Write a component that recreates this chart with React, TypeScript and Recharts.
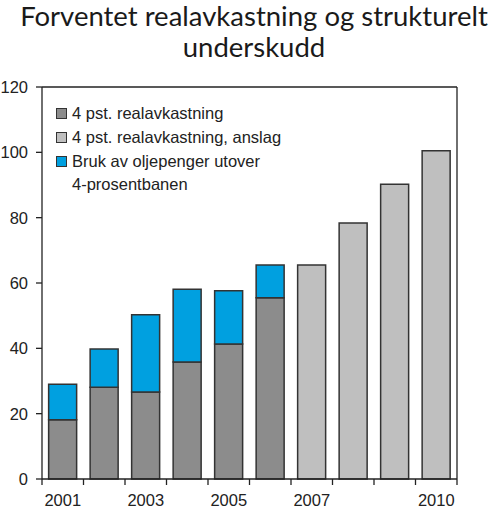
import React from "react";
import {
  BarChart,
  Bar,
  XAxis,
  YAxis,
  ReferenceLine,
  Legend,
} from "recharts";

// ---- data ----
const years = ["2001", "2002", "2003", "2004", "2005", "2006", "2007", "2008", "2009", "2010"];
const realavkastning = [18.1, 28.1, 26.6, 35.8, 41.3, 55.5, null, null, null, null];
const anslag = [null, null, null, null, null, null, 65.5, 78.4, 90.2, 100.5];
const brukUtover = [10.9, 11.7, 23.7, 22.3, 16.3, 10.0, null, null, null, null];
const xTickLabels = ["2001", "2003", "2005", "2007", "2010"];
const yTicks = [0, 20, 40, 60, 80, 100, 120];
const legendItems = [
  { key: "real", label: "4 pst. realavkastning", color: "#8c8c8c" },
  { key: "anslag", label: "4 pst. realavkastning, anslag", color: "#bfbfbf" },
  { key: "bruk", label: "Bruk av oljepenger utover\n4-prosentbanen", color: "#00a0e0" },
];
const titleLines = ["Forventet realavkastning og strukturelt", "underskudd"];

const data = years.map((year, i) => ({
  year,
  real: realavkastning[i],
  anslag: anslag[i],
  bruk: brukUtover[i],
}));

// ---- layout ----
const W = 500;
const H = 511;
const LEFT_W = 42;
const RIGHT_W = 43;
const TOP = 87;
const X_H = 32;
const BAND = (W - LEFT_W - RIGHT_W) / years.length;
const AXIS = "#222";
const FONT = '"Liberation Sans", Arial, sans-serif';

const XTick = (props: any) => {
  const { x, y, payload, index } = props;
  const half = BAND / 2;
  const show = xTickLabels.includes(payload.value);
  return (
    <g>
      <line x1={x - half} x2={x - half} y1={y} y2={y + 6} stroke={AXIS} strokeWidth={1.3} />
      {index === years.length - 1 && (
        <line x1={x + half} x2={x + half} y1={y} y2={y + 6} stroke={AXIS} strokeWidth={1.3} />
      )}
      {show && (
        <text x={x} y={y + 27} textAnchor="middle" fill={AXIS} fontSize={16.5} fontFamily={FONT}>
          {payload.value}
        </text>
      )}
    </g>
  );
};

const LegendBox = () => (
  <div style={{ fontFamily: FONT, fontSize: 16.5, color: AXIS }}>
    {legendItems.map((it) => (
      <div key={it.key} style={{ display: "flex", alignItems: "flex-start", marginBottom: 1.5 }}>
        <span
          style={{
            display: "inline-block",
            width: 9,
            height: 9,
            background: it.color,
            border: "1.3px solid #333",
            marginTop: 5.5,
            marginRight: 5,
            flex: "none",
          }}
        />
        <span style={{ whiteSpace: "pre-line", lineHeight: "22.5px" }}>{it.label}</span>
      </div>
    ))}
  </div>
);

export default function App() {
  return (
    <div style={{ position: "absolute", left: 0, top: 0, width: W, height: H, background: "#fff" }}>
      <div
        style={{
          position: "absolute",
          left: 0,
          top: 0,
          width: W,
          textAlign: "center",
          fontFamily: "Lato, sans-serif",
          fontSize: 27.5,
          lineHeight: "31px",
          color: "#1a1a1a",
          paddingLeft: 8,
          boxSizing: "border-box",
        }}
      >
        {titleLines.map((l) => (
          <div key={l}>{l}</div>
        ))}
      </div>
      <BarChart
        width={W}
        height={H}
        data={data}
        margin={{ top: TOP, right: 0, bottom: 0, left: 0 }}
        barCategoryGap="16%"
      >
        <XAxis
          dataKey="year"
          interval={0}
          tickLine={false}
          tickSize={0}
          tickMargin={0}
          height={X_H}
          axisLine={{ stroke: AXIS, strokeWidth: 1.3 }}
          tick={<XTick />}
        />
        <YAxis
          yAxisId="left"
          orientation="left"
          width={LEFT_W}
          domain={[0, 120]}
          ticks={yTicks}
          interval={0}
          tickSize={6}
          tickMargin={8}
          axisLine={{ stroke: AXIS, strokeWidth: 1.3 }}
          tickLine={{ stroke: AXIS, strokeWidth: 1.3 }}
          tick={{ fill: AXIS, fontSize: 16.5, fontFamily: FONT }}
        />
        <YAxis
          yAxisId="right"
          orientation="right"
          width={RIGHT_W}
          domain={[0, 120]}
          ticks={yTicks}
          interval={0}
          tickSize={6}
          tickMargin={8}
          axisLine={{ stroke: AXIS, strokeWidth: 1.3 }}
          tickLine={{ stroke: AXIS, strokeWidth: 1.3 }}
          tick={{ fill: AXIS, fontSize: 16.5, fontFamily: FONT, textAnchor: "start" }}
        />
        <ReferenceLine yAxisId="left" y={120} stroke={AXIS} strokeWidth={1.3} />
        <Legend
          layout="vertical"
          align="center"
          verticalAlign="middle"
          wrapperStyle={{ left: 56, top: 102, width: 300 }}
          content={() => <LegendBox />}
        />
        <Bar yAxisId="left" dataKey="real" stackId="s" fill="#8c8c8c" stroke="#333" strokeWidth={1.5} isAnimationActive={false} />
        <Bar yAxisId="left" dataKey="anslag" stackId="s" fill="#bfbfbf" stroke="#333" strokeWidth={1.5} isAnimationActive={false} />
        <Bar yAxisId="left" dataKey="bruk" stackId="s" fill="#00a0e0" stroke="#333" strokeWidth={1.5} isAnimationActive={false} />
      </BarChart>
    </div>
  );
}
